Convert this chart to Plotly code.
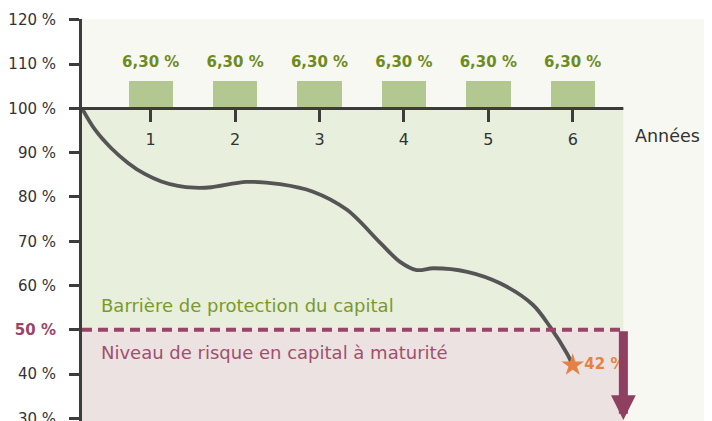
import plotly.graph_objects as go

# ---- data ----
years = [1, 2, 3, 4, 5, 6]
coupons = [6.30, 6.30, 6.30, 6.30, 6.30, 6.30]
coupon_labels = [f"{v:.2f}".replace(".", ",") + " %" for v in coupons]

curve_x = [0.186, 0.336, 0.533, 0.731, 0.929, 1.126, 1.323, 1.521, 1.718, 2.131, 2.53,
           2.923, 3.326, 3.717, 3.95, 4.15, 4.35, 4.75, 5.14, 5.53, 5.73, 5.93, 6.0]
curve_y = [100, 95.3, 91.0, 87.7, 85.2, 83.5, 82.5, 82.1, 82.2, 83.4, 82.9,
           81.2, 77.1, 69.7, 65.4, 63.5, 63.9, 63.1, 60.5, 55.6, 50.7, 44.7, 42]

final_year = [6]
final_value = [42]
final_label = ["42 %"]

barrier = 50
initial = 100
y_ticks = [30, 40, 50, 60, 70, 80, 90, 100, 110, 120]
y_ticktext = ["30 %", "40 %", "<b><span style='color:#9b4466'>50 %</span></b>", "60 %", "70 %",
              "80 %", "90 %", "100 %", "110 %", "120 %"]

# ---- layout constants ----
X0, X_END_ZONE, X_MAX = 0.186, 6.6, 7.65
Y_MIN, Y_MAX = 29.4, 120.2
FONT = "DejaVu Sans"
AXIS_C = "#3c3c3c"

fig = go.Figure()

fig.add_trace(go.Bar(
    x=years, y=coupons, base=initial, width=0.526,
    marker=dict(color="#b3c790", line=dict(width=0)),
    hoverinfo="skip", showlegend=False))

fig.add_trace(go.Scatter(
    x=years, y=[initial + 10.2] * len(years), mode="text", text=coupon_labels,
    textfont=dict(family=FONT, size=15, color="#6e8b1e", weight="bold"),
    textposition="middle center", showlegend=False, hoverinfo="skip"))

fig.add_trace(go.Scatter(
    x=curve_x, y=curve_y, mode="lines",
    line=dict(color="#555555", width=3.8, shape="spline", smoothing=0.9),
    showlegend=False, hoverinfo="skip"))

fig.add_trace(go.Scatter(
    x=final_year, y=final_value, mode="markers+text", text=final_label,
    marker=dict(symbol="star", size=17, color="#e38244"),
    textposition="middle right",
    textfont=dict(family=FONT, size=15, color="#e38244", weight="bold"),
    showlegend=False, hoverinfo="skip", cliponaxis=False))

shapes = [
    dict(type="rect", xref="x", yref="y", x0=X0, x1=X_END_ZONE, y0=barrier, y1=initial,
         fillcolor="#e8efdd", line=dict(width=0), layer="below"),
    dict(type="rect", xref="x", yref="y", x0=X0, x1=X_END_ZONE, y0=Y_MIN, y1=barrier,
         fillcolor="#ece2e1", line=dict(width=0), layer="below"),
    dict(type="line", xref="x", yref="y", x0=X0, x1=X_END_ZONE, y0=initial, y1=initial,
         line=dict(color=AXIS_C, width=3), layer="above"),
    dict(type="line", xref="x", yref="y", x0=X0, x1=X_END_ZONE, y0=barrier, y1=barrier,
         line=dict(color="#984668", width=4, dash="10px,6px"), layer="above"),
]

annotations = [
    dict(x=X_END_ZONE, y=Y_MIN + 0.2, ax=X_END_ZONE, ay=barrier, xref="x", yref="y",
         axref="x", ayref="y", showarrow=True, arrowhead=2, arrowwidth=9, arrowsize=0.55,
         arrowcolor="#8f3f60", text=""),
    dict(x=0.39, y=55.4, xref="x", yref="y", text="Barrière de protection du capital",
         showarrow=False, xanchor="left", yanchor="middle",
         font=dict(family=FONT, size=18, color="#7a9a2a")),
    dict(x=0.39, y=44.8, xref="x", yref="y", text="Niveau de risque en capital à maturité",
         showarrow=False, xanchor="left", yanchor="middle",
         font=dict(family=FONT, size=18, color="#a0506e")),
    dict(x=7.12, y=93.75, xref="x", yref="y", text="Années", showarrow=False,
         xanchor="center", yanchor="middle",
         font=dict(family=FONT, size=17.5, color="#333333")),
]

# page body has an 8px default margin: the figure is sized/offset to compensate
fig.update_layout(
    width=704, height=413,
    margin=dict(l=74, r=0, t=11, b=0, autoexpand=False),
    paper_bgcolor="white", plot_bgcolor="#f7f8f2",
    shapes=shapes, annotations=annotations,
    bargap=0, showlegend=False,
    font=dict(family=FONT, color="#333333"),
    xaxis=dict(range=[X0, X_MAX], anchor="free", automargin=False,
               position=(initial - Y_MIN) / (Y_MAX - Y_MIN),
               showline=False, showgrid=False, zeroline=False,
               tickvals=years, ticktext=[str(y) for y in years],
               ticks="outside", ticklen=13, tickwidth=3, tickcolor=AXIS_C,
               ticklabelstandoff=3,
               tickfont=dict(family=FONT, size=16, color="#333333")),
    yaxis=dict(range=[Y_MIN, Y_MAX], showline=True, linewidth=3, linecolor=AXIS_C,
               automargin=False, ticklabeloverflow="allow", ticklabelstandoff=10,
               showgrid=False, zeroline=False,
               tickvals=y_ticks, ticktext=y_ticktext,
               ticks="outside", ticklen=10, tickwidth=3, tickcolor=AXIS_C,
               tickfont=dict(family=FONT, size=15, color="#333333")),
)

fig.write_html("out.html")
